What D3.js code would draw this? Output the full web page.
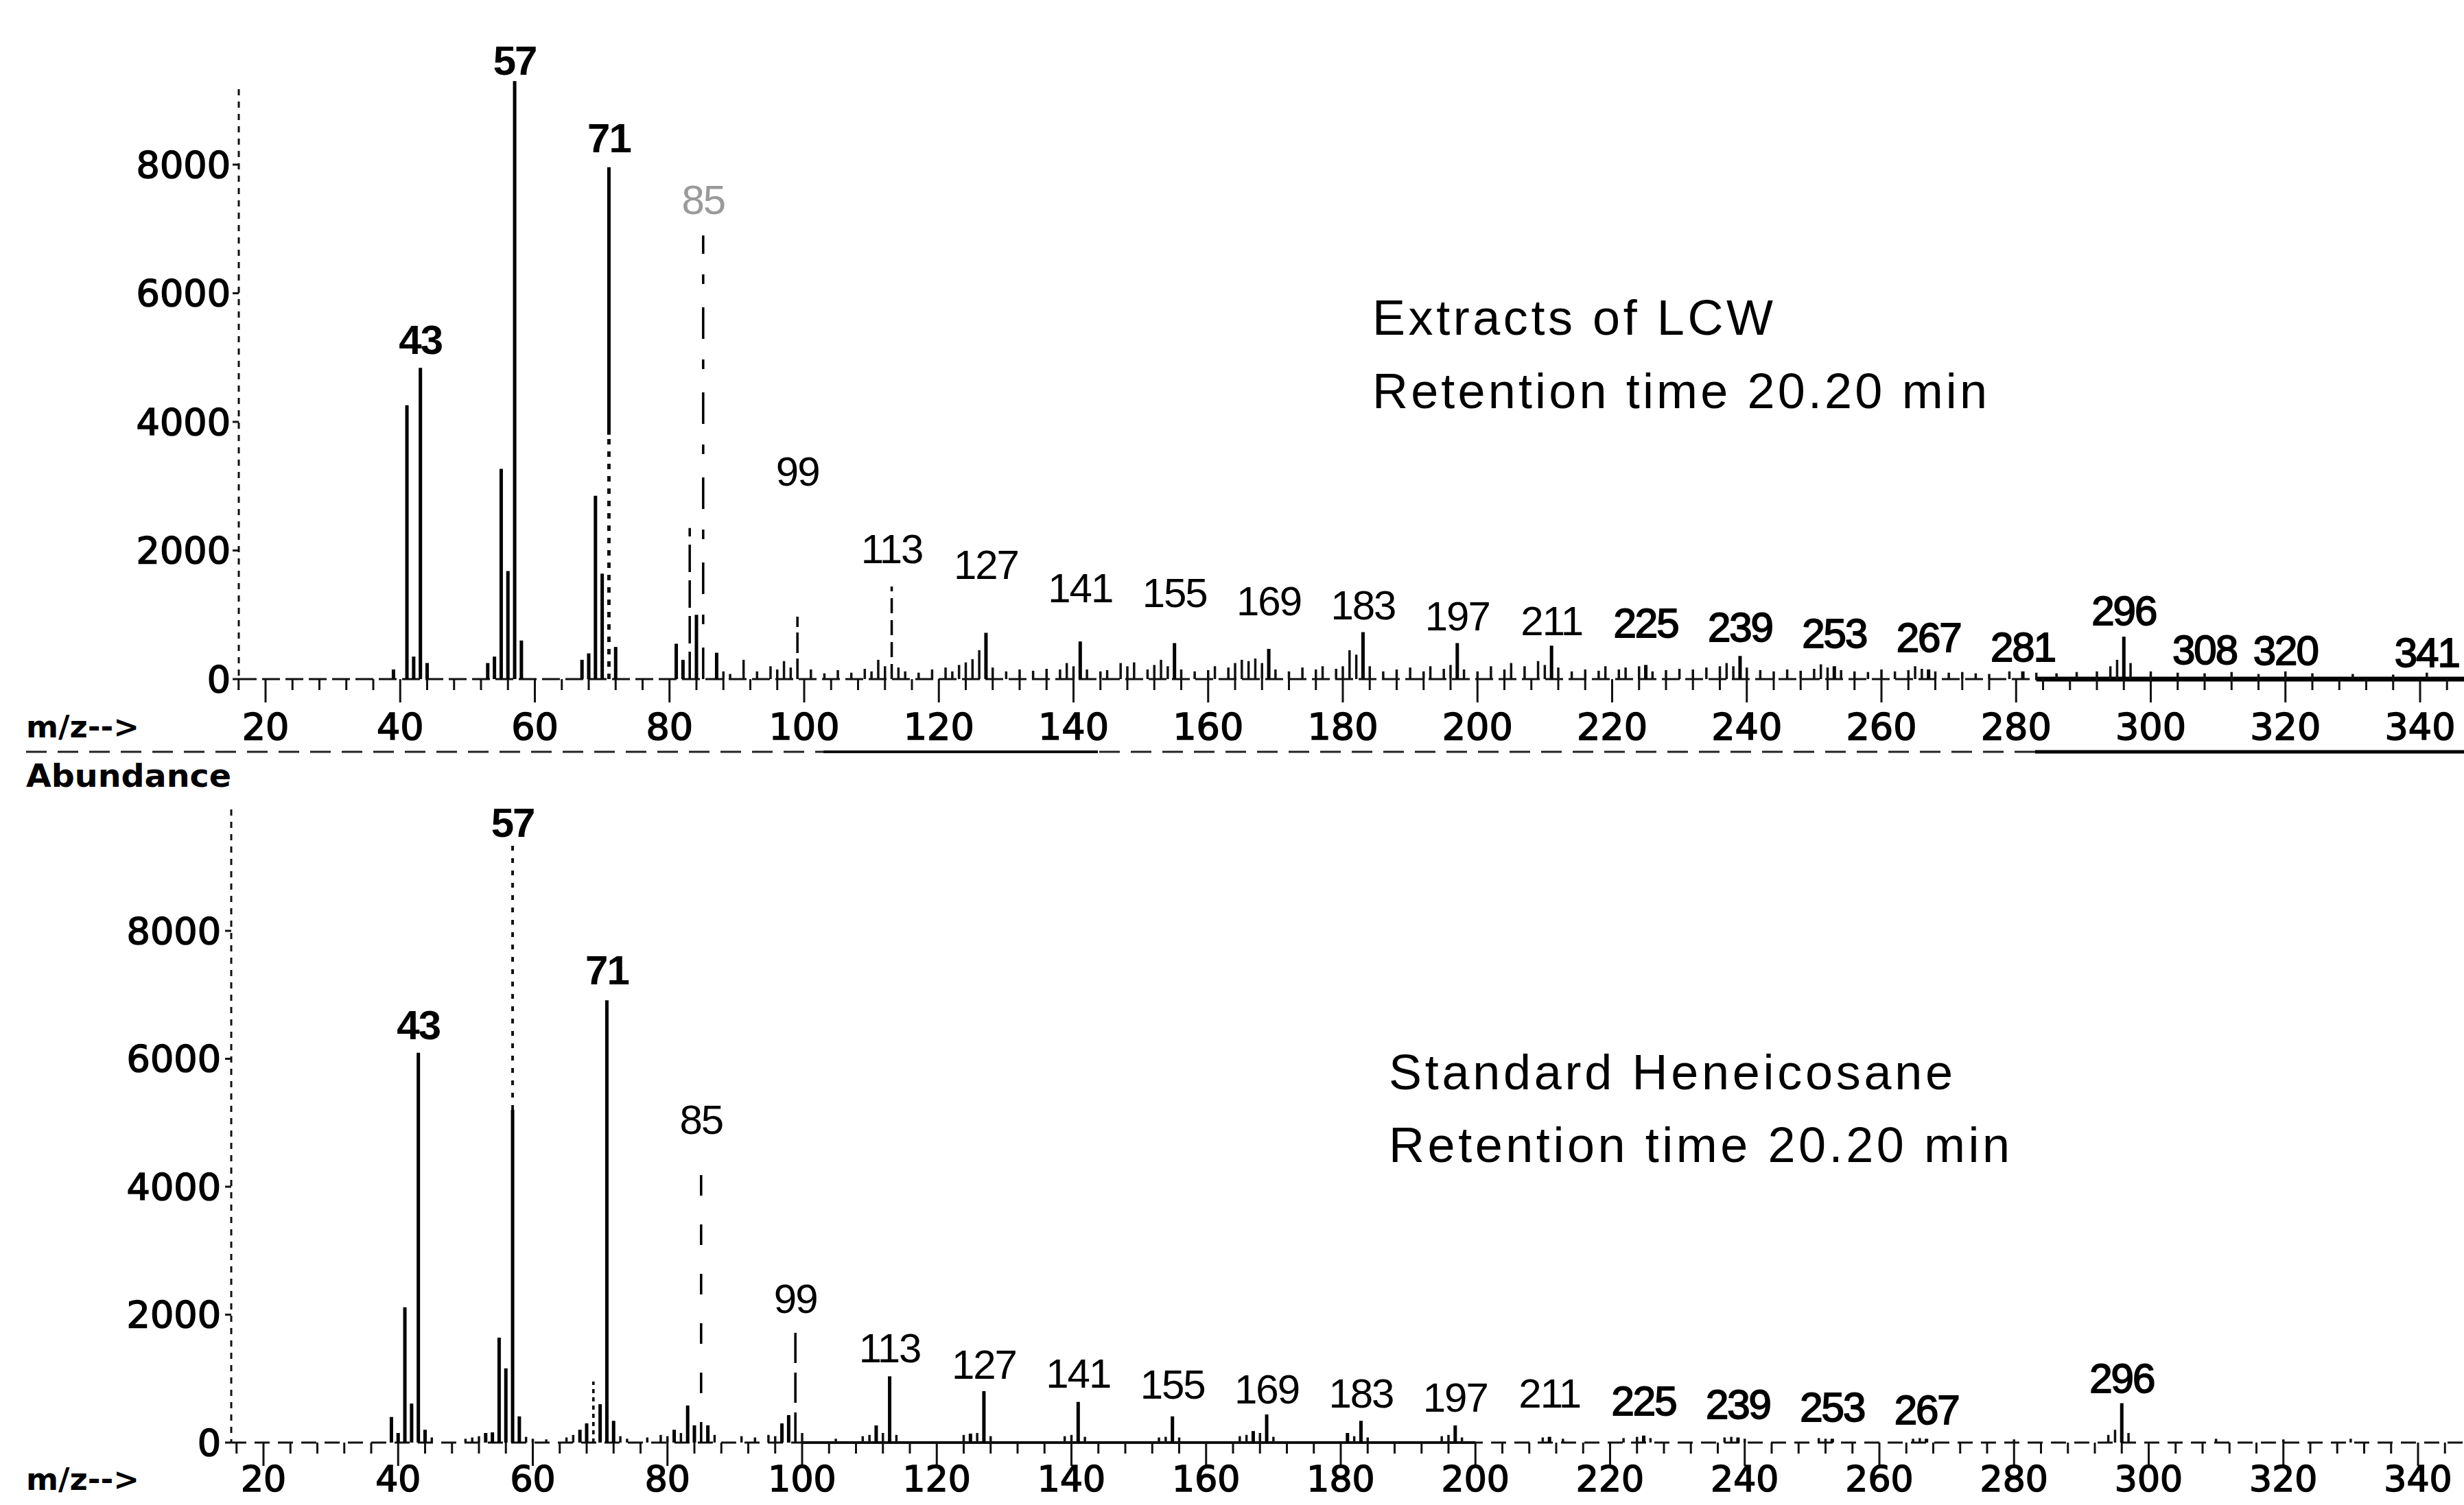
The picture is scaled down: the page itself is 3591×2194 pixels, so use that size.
<!DOCTYPE html>
<html><head><meta charset="utf-8">
<script src="https://cdn.jsdelivr.net/npm/d3@7"></script>
<style>html,body{margin:0;padding:0;background:#fff;}svg{display:block;}</style>
</head><body>
<svg id="chart" width="3591" height="2194"></svg>
<script>
// ---------------- data ----------------
const xTickValues = [20,40,60,80,100,120,140,160,180,200,220,240,260,280,300,320,340];
const yTickValues = [0,2000,4000,6000,8000];
const xAxisTitle = "m/z-->";
const yAxisTitle = "Abundance";

// Panel 1: Extracts of LCW
const lcwTitle = ["Extracts of LCW", "Retention time 20.20 min"];
const lcwMz        = [39,41,42,43,44,53,54,55,56,57,58,67,68,69,70,71,72,81,82,83,84,85,87,99,113,127,141,155,169,183,197,211,225,239,253,267,281,296];
const lcwAbundance = [150,4260,350,4840,250,250,350,3270,1680,9300,600,300,400,2850,1640,7960,500,550,300,2350,1000,6900,410,970,1440,720,585,560,470,730,560,520,220,360,200,150,120,660];
const lcwMinorMz        = [88,89,91,93,95,96,97,98,101,103,105,107,109,110,111,112,114,115,117,119,121,122,123,124,125,126,128,130,132,134,136,138,139,140,142,144,145,147,148,149,151,152,153,154,156,158,160,161,163,164,165,166,167,168,170,172,174,176,177,179,180,181,182,184,186,188,190,192,193,195,196,198,200,202,204,205,207,209,210,212,214,216,218,219,221,222,224,226,228,230,232,234,236,237,238,240,242,244,246,248,250,251,252,254,256,258,260,262,264,265,266,268,270,272,274,276,279,283,286,289,292,294,295,297,300,304,308,312,316,320,324,330,336,341];
const lcwMinorAbundance = [120,80,300,120,200,150,280,180,150,90,140,100,160,120,300,200,180,120,100,150,180,120,220,260,310,450,180,120,150,130,160,150,250,200,150,120,140,250,200,260,150,220,300,200,150,120,140,200,180,250,300,280,320,250,150,120,180,150,200,160,200,450,380,200,120,150,180,120,200,160,220,150,120,200,150,250,200,280,220,180,120,150,130,200,150,180,200,120,140,160,150,180,200,250,200,180,140,120,150,130,160,230,180,140,120,110,150,120,140,200,160,120,100,110,90,80,120,100,90,110,120,200,300,250,120,100,90,110,80,120,90,80,70,100];
const lcwLabelMz    = [43,57,71,85,99,113,127,141,155,169,183,197,211,225,239,253,267,281,296,308,320,341];
const lcwLabelLevel = [5280,9620,8410,7456,3232,2020,1780,1415,1340,1215,1145,975,905,870,810,706,648,500,1060,456,448,415];

// Panel 2: Standard Heneicosane
const stdTitle = ["Standard Heneicosane", "Retention time 20.20 min"];
const stdMz        = [39,40,41,42,43,44,53,54,55,56,57,58,67,68,69,70,71,72,81,83,84,85,86,97,98,99,111,113,125,127,141,155,167,169,181,183,197,211,225,239,253,267,296];
const stdAbundance = [400,150,2115,610,6094,200,150,160,1640,1160,9330,410,200,300,955,600,6913,340,200,580,270,4610,270,300,430,1740,268,1036,140,804,636,410,180,440,150,340,268,90,110,80,60,60,616];
const stdMinorMz        = [45,50,51,52,59,60,62,65,66,73,74,77,79,80,82,87,91,93,95,96,100,105,109,110,112,114,124,126,128,139,140,142,153,154,156,165,166,168,170,182,184,195,196,198,210,213,222,224,226,237,238,240,251,252,265,266,280,294,295,297,310,320,330];
const stdMinorAbundance = [80,60,80,100,90,60,50,80,120,100,60,80,120,100,150,120,100,80,120,100,150,60,100,120,150,120,120,150,100,100,120,90,80,90,80,100,120,150,90,100,80,100,120,80,80,60,70,90,70,80,90,60,70,60,60,70,50,120,200,150,60,50,60];
const stdLabelMz    = [43,57,71,85,99,113,127,141,155,169,183,197,211,225,239,253,267,296];
const stdLabelLevel = [6527,9687,7381,5042,2248,1475,1220,1077,906,831,769,702,763,649,600,547,510,1003];

// ---------------- drawing ----------------
const svg = d3.select('#chart');
svg.append('rect').attr('width',3591).attr('height',2194).attr('fill','#fff');

const panels = [
  { mz: lcwMz, ab: lcwAbundance, nmz: lcwMinorMz, nab: lcwMinorAbundance,
    lmz: lcwLabelMz, llev: lcwLabelLevel, title: lcwTitle,
    x: d3.scaleLinear().domain([20,340]).range([387,3527]),
    y: d3.scaleLinear().domain([0,8000]).range([990,240]),
    axisX: 348, axisTop: 130, yLabRight: 336, xLabY: 1059,
    titleX: 2000, titleY: [488,595], titleLen: [584,896],
    dash: {83:"40 12", 85:"46 34 14 30", 113:"22 10", 99:"30 8"},
    heavy: new Set([43,57,71,225,239,253,267,281,296,308,320,341]),
    bold: new Set([43,57,71]), faint: new Set([85]),
    split: {71: 3800}, splitUpper: {} ,
    thickFrom: 283 },
  { mz: stdMz, ab: stdAbundance, nmz: stdMinorMz, nab: stdMinorAbundance,
    lmz: stdLabelMz, llev: stdLabelLevel, title: stdTitle,
    x: d3.scaleLinear().domain([20,340]).range([384,3524]),
    y: d3.scaleLinear().domain([0,8000]).range([2103,1357]),
    axisX: 337, axisTop: 1180, yLabRight: 322, xLabY: 2156,
    titleX: 2024, titleY: [1588,1694], titleLen: [822,905],
    dash: {85:"30 42", 69:"6 6", 99:"44 14"},
    heavy: new Set([43,57,71,225,239,253,267,296]),
    bold: new Set([43,57,71]), faint: new Set(),
    split: {}, splitUpper: {57: 5200},
    thickFrom: null }
];

panels.forEach((p, pi) => {
  const g = svg.append('g');
  const x = p.x, y = p.y, y0 = y(0);
  const tickFont = pi === 0 ? 54 : 52;

  // y axis (dotted)
  g.append('line').attr('x1',p.axisX).attr('x2',p.axisX).attr('y1',p.axisTop).attr('y2',y0)
    .attr('stroke','#111').attr('stroke-width',3).attr('stroke-dasharray','9 9');
  // y ticks & labels
  yTickValues.forEach(v => {
    g.append('line').attr('x1',p.axisX-9).attr('x2',p.axisX).attr('y1',y(v)).attr('y2',y(v))
      .attr('stroke','#111').attr('stroke-width',3);
    g.append('text').attr('x',p.yLabRight).attr('y',y(v)).attr('text-anchor','end')
      .attr('dominant-baseline','central').attr('font-family','DejaVu Sans').attr('font-size',54)
      .attr('fill','#000').attr('stroke','#000').attr('stroke-width',1.6).text(v);
  });

  // baseline
  const xRight = 3591;
  g.append('line').attr('x1',p.axisX).attr('x2',xRight).attr('y1',y0).attr('y2',y0)
    .attr('stroke','#111').attr('stroke-width',3).attr('stroke-dasharray', pi===0 ? '26 8' : '22 12');
  if (p.thickFrom) {
    g.append('line').attr('x1',x(p.thickFrom)).attr('x2',xRight).attr('y1',y0).attr('y2',y0)
      .attr('stroke','#000').attr('stroke-width',7);
  }
  if (pi===1) {
    g.append('line').attr('x1',x(100)).attr('x2',x(200)).attr('y1',y0).attr('y2',y0)
      .attr('stroke','#111').attr('stroke-width',4);
  }

  // x ticks
  const minor = d3.range(16, 347, 4);
  minor.forEach(v => {
    const major = v % 20 === 0;
    g.append('line').attr('x1',x(v)).attr('x2',x(v)).attr('y1',y0).attr('y2',y0 + (major?34:16))
      .attr('stroke','#111').attr('stroke-width',3);
  });
  xTickValues.forEach(v => {
    g.append('text').attr('x',x(v)).attr('y',p.xLabY).attr('text-anchor','middle')
      .attr('dominant-baseline','central').attr('font-family','DejaVu Sans').attr('font-size',tickFont)
      .attr('fill','#000').attr('stroke','#000').attr('stroke-width',1.6).text(v);
  });
  g.append('text').attr('x',38).attr('y',p.xLabY).attr('dominant-baseline','central')
    .attr('font-family','DejaVu Sans').attr('font-weight','bold').attr('font-size',44)
    .attr('textLength',165).attr('lengthAdjust','spacingAndGlyphs').text(xAxisTitle);

  // minor (noise) peaks
  g.selectAll('line.noise').data(d3.zip(p.nmz, p.nab)).enter().append('line')
    .attr('x1',d=>x(d[0])).attr('x2',d=>x(d[0])).attr('y1',y0).attr('y2',d=>y(d[1]))
    .attr('stroke','#111').attr('stroke-width',3.5);

  // main peaks
  d3.zip(p.mz, p.ab).forEach(([m,a]) => {
    const xx = x(m);
    if (p.split[m] !== undefined) {
      const s = p.split[m];
      g.append('line').attr('x1',xx).attr('x2',xx).attr('y1',y0).attr('y2',y(s))
        .attr('stroke','#111').attr('stroke-width',5).attr('stroke-dasharray','8 10');
      g.append('line').attr('x1',xx).attr('x2',xx).attr('y1',y(s)).attr('y2',y(a))
        .attr('stroke','#000').attr('stroke-width',5);
    } else if (p.splitUpper[m] !== undefined) {
      const s = p.splitUpper[m];
      g.append('line').attr('x1',xx).attr('x2',xx).attr('y1',y0).attr('y2',y(s))
        .attr('stroke','#000').attr('stroke-width',5);
      g.append('line').attr('x1',xx).attr('x2',xx).attr('y1',y(s)).attr('y2',y(a))
        .attr('stroke','#111').attr('stroke-width',4).attr('stroke-dasharray','7 11');
    } else {
      const l = g.append('line').attr('x1',xx).attr('x2',xx).attr('y1',y0).attr('y2',y(a))
        .attr('stroke','#000').attr('stroke-width', p.dash[m] ? 3.5 : 5);
      if (p.dash[m]) l.attr('stroke-dasharray', p.dash[m]);
    }
  });

  // peak labels
  d3.zip(p.lmz, p.llev).forEach(([m,lev]) => {
    const t = g.append('text').attr('x',x(m)).attr('y',y(lev)).attr('text-anchor','middle')
      .attr('dominant-baseline','central').attr('font-family','Liberation Sans')
      .attr('font-size',60).attr('letter-spacing',-2)
      .attr('fill', p.faint.has(m) ? '#9a9a9a' : '#000').text(m);
    if (p.bold.has(m)) t.attr('font-weight','bold');
    else if (p.heavy.has(m)) t.attr('stroke','#000').attr('stroke-width',1.8);
  });

  // panel titles
  p.title.forEach((s,i) => {
    g.append('text').attr('x',p.titleX).attr('y',p.titleY[i]).attr('font-family','Liberation Sans')
      .attr('font-size',72).attr('textLength',p.titleLen[i]).attr('lengthAdjust','spacing')
      .attr('fill','#000').text(s);
  });
});

// separator line under the top axis labels
svg.append('line').attr('x1',38).attr('x2',3591).attr('y1',1096).attr('y2',1096)
  .attr('stroke','#222').attr('stroke-width',3).attr('stroke-dasharray','30 16');
svg.append('line').attr('x1',1200).attr('x2',1600).attr('y1',1096).attr('y2',1096)
  .attr('stroke','#111').attr('stroke-width',4);
svg.append('line').attr('x1',2966).attr('x2',3591).attr('y1',1096).attr('y2',1096)
  .attr('stroke','#000').attr('stroke-width',5);

// y axis title for lower panel
svg.append('text').attr('x',38).attr('y',1131).attr('dominant-baseline','central')
  .attr('font-family','DejaVu Sans').attr('font-weight','bold').attr('font-size',46)
  .attr('textLength',299).attr('lengthAdjust','spacingAndGlyphs').text(yAxisTitle);
</script>
</body></html>
